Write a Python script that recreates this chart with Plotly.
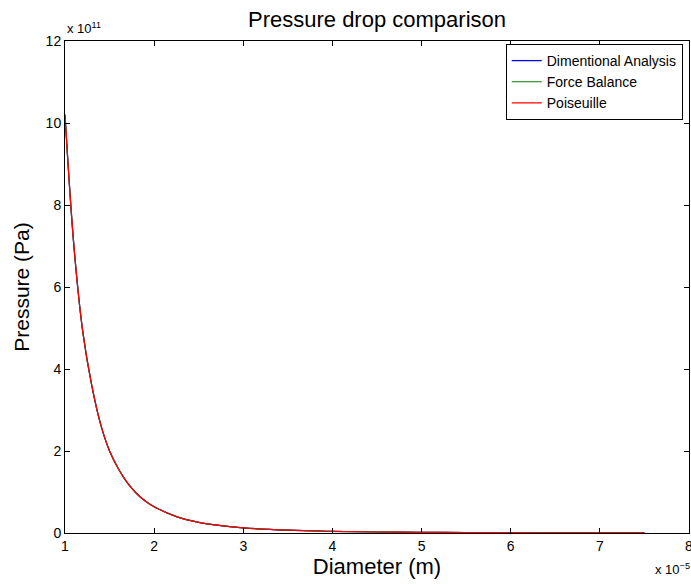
import plotly.graph_objects as go

# Diameter in units of 1e-5 m, pressure in units of 1e11 Pa
diameter = [1.0, 1.1, 1.2, 1.3, 1.4, 1.5, 1.6, 1.7, 1.8, 1.9, 2.0, 2.25, 2.5, 2.75,
            3.0, 3.5, 4.0, 4.5, 5.0, 5.5, 6.0, 6.5, 7.0, 7.5]
p_dimensional = [10.2, 7.0, 4.9, 3.6, 2.65, 2.0, 1.56, 1.22, 0.97, 0.78, 0.64, 0.40,
                 0.26, 0.18, 0.126, 0.068, 0.040, 0.025, 0.016, 0.011, 0.008,
                 0.0057, 0.0042, 0.0032]
p_force = [10.2, 7.0, 4.9, 3.6, 2.65, 2.0, 1.56, 1.22, 0.97, 0.78, 0.64, 0.40,
           0.26, 0.18, 0.126, 0.068, 0.040, 0.025, 0.016, 0.011, 0.008,
           0.0057, 0.0042, 0.0032]
p_poiseuille = [10.2, 7.0, 4.9, 3.6, 2.65, 2.0, 1.56, 1.22, 0.97, 0.78, 0.64, 0.40,
                0.26, 0.18, 0.126, 0.068, 0.040, 0.025, 0.016, 0.011, 0.008,
                0.0057, 0.0042, 0.0032]
series_names = ["Dimentional Analysis", "Force Balance", "Poiseuille"]
series_colors = ["#0000ff", "#008000", "#ff0000"]
x_ticks = [1, 2, 3, 4, 5, 6, 7, 8]
y_ticks = [0, 2, 4, 6, 8, 10, 12]

FONT = "Liberation Sans, Arial, Helvetica, sans-serif"

fig = go.Figure()
for name, color, ys in zip(series_names, series_colors, [p_dimensional, p_force, p_poiseuille]):
    fig.add_trace(go.Scatter(x=diameter, y=ys, mode="lines", name=name,
                             line=dict(color=color, width=1.2, shape="spline")))

axis_common = dict(showgrid=False, zeroline=False, showline=True, linecolor="black",
                   linewidth=1, mirror="ticks", ticks="inside", ticklen=5,
                   automargin=False,
                   tickcolor="black", tickfont=dict(family=FONT, size=14, color="black"))

fig.update_layout(
    width=691, height=584,
    margin=dict(l=65, r=2, t=41, b=51),
    paper_bgcolor="white", plot_bgcolor="white",
    font=dict(family=FONT, color="black"),
    title=dict(text="Pressure drop comparison", x=0.5, xanchor="center",
               xref="paper", y=1 - 19 / 584, yanchor="middle",
               font=dict(family=FONT, size=22, color="black")),
    xaxis=dict(range=[1, 8], tickvals=x_ticks, ticktext=[str(v) for v in x_ticks],
               ticklabeloverflow="allow",
               title=dict(text="Diameter (m)", font=dict(family=FONT, size=22), standoff=4),
               **axis_common),
    yaxis=dict(range=[0, 12], tickvals=y_ticks, ticktext=[str(v) for v in y_ticks],
               title=dict(text="Pressure (Pa)", font=dict(family=FONT, size=21), standoff=10),
               **axis_common),
    legend=dict(x=0.99, y=0.994, xanchor="right", yanchor="top",
                bgcolor="white", bordercolor="black", borderwidth=1,
                font=dict(family=FONT, size=14, color="black"),
                tracegroupgap=0, itemwidth=30),
    showlegend=True,
)

fig.add_annotation(text="x 10<sup>11</sup>", xref="paper", yref="paper", x=0.0, y=1.0,
                   xanchor="left", yanchor="bottom", showarrow=False, yshift=3,
                   font=dict(family=FONT, size=13, color="black"))
fig.add_annotation(text="x 10<sup>\u22125</sup>", xref="paper", yref="paper", x=1.0, y=0.0,
                   xanchor="right", yanchor="top", showarrow=False, yshift=-26, xshift=3,
                   font=dict(family=FONT, size=13, color="black"))

fig.write_html("out.html")
